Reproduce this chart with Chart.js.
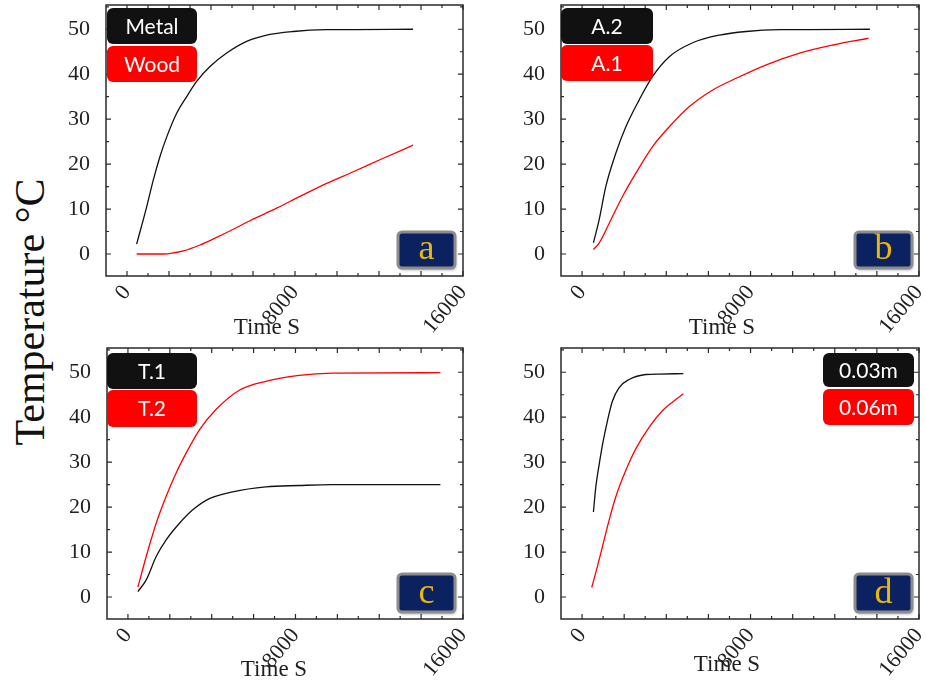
<!DOCTYPE html>
<html>
<head>
<meta charset="utf-8">
<script src="https://cdn.jsdelivr.net/npm/chart.js@4.4.1/dist/chart.umd.min.js"></script>
<style>
  html,body{margin:0;padding:0;background:#fff;}
  body{width:926px;height:685px;position:relative;overflow:hidden;}
  canvas{position:absolute;}
  #ytitle{position:absolute;left:30px;top:312px;transform:translate(-50%,-50%) rotate(-90deg);
    font-family:"Liberation Serif",serif;font-size:42px;color:#111;white-space:nowrap;}
</style>
</head>
<body>
<div id="ytitle">Temperature °C</div>
<canvas id="ca" width="470" height="340" style="left:0;top:0"></canvas>
<canvas id="cb" width="456" height="340" style="left:470px;top:0"></canvas>
<canvas id="cc" width="470" height="345" style="left:0;top:340px"></canvas>
<canvas id="cd" width="456" height="345" style="left:470px;top:340px"></canvas>
<script>
// ---- tick labels ----
const xTickLabels = [0, 8000, 16000];
const yTickLabels = [0, 10, 20, 30, 40, 50];
const xTitle = "Time S";

// ---- panel a ----
const aMetalX = [460, 937, 1254, 1571, 1889, 2365, 2841, 3317, 3952, 4746, 5698, 6651, 7921, 9508, 13620];
const aMetalY = [2.2, 10.5, 16.5, 21.7, 26.0, 31.3, 35.0, 38.4, 41.7, 44.7, 47.3, 48.7, 49.5, 49.9, 50.0];
const aWoodX  = [460, 1730, 2683, 3476, 4270, 5063, 5857, 7127, 8238, 9508, 10778, 12206, 13620];
const aWoodY  = [0.0, 0.0, 0.7, 2.0, 3.7, 5.5, 7.4, 10.2, 12.8, 15.7, 18.3, 21.3, 24.2];

// ---- panel b ----
const bA2X = [540, 810, 1127, 1603, 2079, 2714, 3349, 4143, 5254, 6524, 7794, 9381, 13667];
const bA2Y = [2.5, 7.6, 15.0, 22.4, 28.3, 34.3, 39.5, 43.9, 47.0, 48.7, 49.5, 49.9, 50.0];
const bA1X = [540, 810, 1286, 1921, 2556, 3349, 4143, 5095, 6206, 7317, 8746, 10333, 11921, 13603];
const bA1Y = [1.0, 2.4, 6.8, 12.8, 18.0, 23.9, 28.3, 32.8, 36.5, 39.1, 42.1, 44.7, 46.5, 48.0];

// ---- panel c ----
const cT1X = [476, 873, 1349, 1825, 2460, 3095, 3889, 5000, 6587, 8175, 9762, 14920];
const cT1Y = [1.2, 3.8, 9.0, 12.7, 16.4, 19.4, 21.9, 23.4, 24.5, 24.8, 25.0, 25.0];
const cT2X = [476, 873, 1349, 1825, 2302, 2778, 3413, 4206, 5317, 6587, 8175, 9762, 14920];
const cT2Y = [2.2, 9.0, 16.4, 22.4, 27.6, 32.0, 37.2, 41.7, 46.0, 48.0, 49.3, 49.8, 49.9];

// ---- panel d ----
const d003X = [540, 651, 810, 1000, 1206, 1444, 1762, 2238, 3032, 3667, 4810];
const d003Y = [18.9, 24.4, 29.4, 34.6, 39.2, 43.6, 46.6, 48.4, 49.5, 49.6, 49.7];
const d006X = [460, 730, 968, 1286, 1603, 2079, 2556, 3190, 3825, 4302, 4810];
const d006Y = [2.1, 6.8, 11.2, 17.1, 22.3, 28.2, 33.0, 37.8, 41.5, 43.4, 45.2];

const pts = (xs, ys) => xs.map((x, i) => ({x: x, y: ys[i]}));

const BLACK = '#111111', RED = '#ff0000';
const serif = '"Liberation Serif", "Times New Roman", serif';

const panelPlugin = {
  id: 'panelDeco',
  afterDraw(chart) {
    const o = chart.options.plugins.panelDeco;
    const ctx = chart.ctx, a = chart.chartArea;
    const xs = chart.scales.x, ys = chart.scales.y;
    ctx.save();
    // frame
    ctx.strokeStyle = '#2a2a2a'; ctx.lineWidth = 1.5;
    ctx.strokeRect(a.left, a.top, a.right - a.left, a.bottom - a.top);
    // ticks (inward on all sides)
    ctx.lineWidth = 1.2;
    for (let v = 0; v <= 16000; v += 1000) {
      const p = xs.getPixelForValue(v);
      const L = (v % 2000 === 0) ? 5 : 3;
      ctx.beginPath();
      ctx.moveTo(p, a.bottom); ctx.lineTo(p, a.bottom - L);
      ctx.moveTo(p, a.top); ctx.lineTo(p, a.top + L);
      ctx.stroke();
    }
    for (let v = -5; v <= 55; v += 5) {
      if (v < ys.min || v > ys.max) continue;
      const p = ys.getPixelForValue(v);
      const L = (v % 10 === 0) ? 5 : 3;
      ctx.beginPath();
      ctx.moveTo(a.left, p); ctx.lineTo(a.left + L, p);
      ctx.moveTo(a.right, p); ctx.lineTo(a.right - L, p);
      ctx.stroke();
    }
    // legend boxes
    chart.data.datasets.forEach((ds, i) => {
      const b = o.legend[i];
      ctx.fillStyle = ds.borderColor;
      ctx.beginPath();
      ctx.roundRect(b[0], b[1], b[2] - b[0], b[3] - b[1], 6);
      ctx.fill();
      ctx.fillStyle = '#ffffff';
      ctx.font = '21px Lato, "Open Sans", sans-serif';
      ctx.textAlign = 'center'; ctx.textBaseline = 'middle';
      ctx.fillText(ds.label, (b[0] + b[2]) / 2, (b[1] + b[3]) / 2 + 1);
    });
    // panel letter box
    const lb = o.letterBox;
    ctx.save();
    ctx.shadowColor = 'rgba(0,0,0,0.35)'; ctx.shadowBlur = 3; ctx.shadowOffsetX = 1; ctx.shadowOffsetY = 2;
    ctx.fillStyle = '#0c2160';
    ctx.beginPath(); ctx.roundRect(lb[0], lb[1], lb[2] - lb[0], lb[3] - lb[1], 4); ctx.fill();
    ctx.restore();
    ctx.strokeStyle = '#8c8c8c'; ctx.lineWidth = 3;
    ctx.beginPath(); ctx.roundRect(lb[0], lb[1], lb[2] - lb[0], lb[3] - lb[1], 4); ctx.stroke();
    ctx.fillStyle = '#e9b80c';
    ctx.font = '36px ' + serif;
    ctx.textAlign = 'center'; ctx.textBaseline = 'alphabetic';
    ctx.fillText(o.letter, (lb[0] + lb[2]) / 2, lb[3] - 9);
    // x title
    ctx.fillStyle = '#1e1e1e';
    ctx.font = '23px ' + serif;
    ctx.textAlign = 'center'; ctx.textBaseline = 'middle';
    ctx.fillText(xTitle, o.title[0], o.title[1]);
    ctx.restore();
  }
};

function makeChart(id, geo, datasets, deco) {
  const cv = document.getElementById(id);
  return new Chart(cv, {
    type: 'line',
    data: { datasets: datasets.map(d => ({
      label: d.label, data: d.data, borderColor: d.color, backgroundColor: d.color,
      borderWidth: 1.3, pointRadius: 0, fill: false, cubicInterpolationMode: 'monotone'
    })) },
    options: {
      responsive: false, animation: false, devicePixelRatio: 1,
      layout: { padding: { left: 0, top: geo.T, right: cv.width - geo.R, bottom: 0 } },
      plugins: { legend: { display: false }, tooltip: { enabled: false }, panelDeco: deco },
      scales: {
        x: {
          type: 'linear', min: -1000, max: 16000,
          afterBuildTicks: s => { s.ticks = xTickLabels.map(v => ({value: v})); },
          afterFit: s => { s.height = cv.height - geo.B; s.paddingLeft = 0; s.paddingRight = 0; s.paddingTop = 0; s.paddingBottom = 0; },
          grid: { display: false, drawTicks: false }, border: { display: false },
          ticks: { autoSkip: false, minRotation: 50, maxRotation: 50, padding: 4,
                   callback: v => String(v),
                   color: '#222', font: { family: serif, size: 22 } }
        },
        y: {
          type: 'linear', min: -4.9, max: 55.4,
          afterBuildTicks: s => { s.ticks = yTickLabels.map(v => ({value: v})); },
          afterFit: s => { s.width = geo.L; s.paddingLeft = 0; s.paddingRight = 0; s.paddingTop = 0; s.paddingBottom = 0; },
          grid: { display: false, drawTicks: false }, border: { display: false },
          ticks: { padding: 16, callback: v => String(v), color: '#222', font: { family: serif, size: 22 } }
        }
      }
    },
    plugins: [panelPlugin]
  });
}

makeChart('ca', {L:106, T:5, R:463, B:276}, [
  {label: 'Metal', data: pts(aMetalX, aMetalY), color: BLACK},
  {label: 'Wood',  data: pts(aWoodX, aWoodY), color: RED}
], {legend: [[107,8,197,44],[107,46,197,82]], letterBox: [398,232,455,268], letter: 'a', title: [267,328]});

makeChart('cb', {L:91, T:5, R:449, B:276}, [
  {label: 'A.2', data: pts(bA2X, bA2Y), color: BLACK},
  {label: 'A.1', data: pts(bA1X, bA1Y), color: RED}
], {legend: [[91,8,183,44],[91,45,183,81]], letterBox: [385,232,442,268], letter: 'b', title: [252,328]});

makeChart('cc', {L:107, T:8, R:463, B:279}, [
  {label: 'T.1', data: pts(cT1X, cT1Y), color: BLACK},
  {label: 'T.2', data: pts(cT2X, cT2Y), color: RED}
], {legend: [[107,13,197,49],[107,50,197,87]], letterBox: [398,234,455,272], letter: 'c', title: [274,330]});

makeChart('cd', {L:91, T:8, R:449, B:279}, [
  {label: '0.03m', data: pts(d003X, d003Y), color: BLACK},
  {label: '0.06m', data: pts(d006X, d006Y), color: RED}
], {legend: [[353,13,444,47],[353,49,444,85]], letterBox: [385,234,442,272], letter: 'd', title: [257,325]});
</script>
</body>
</html>
